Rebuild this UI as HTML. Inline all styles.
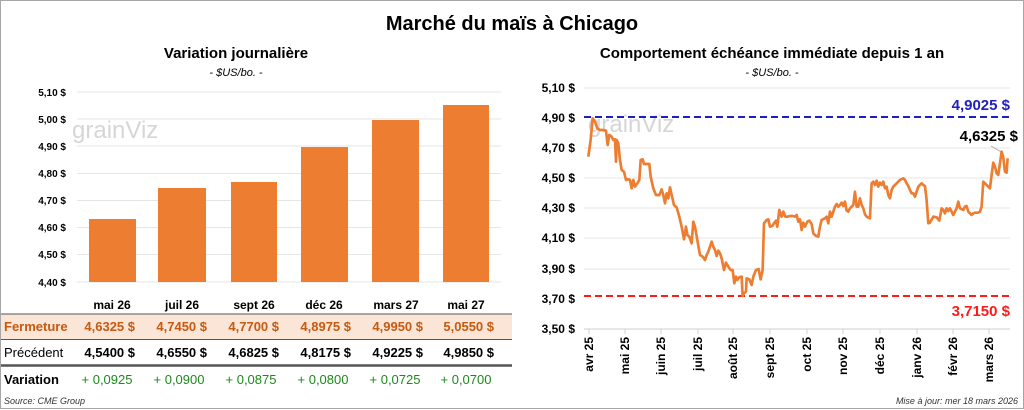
<!DOCTYPE html>
<html><head><meta charset="utf-8"><style>
html,body{margin:0;padding:0;background:#fff}
svg{display:block;font-family:"Liberation Sans",Calibri,sans-serif}
</style></head><body>
<svg width="1024" height="410" viewBox="0 0 1024 410" xmlns="http://www.w3.org/2000/svg">
<rect x="0.5" y="0.5" width="1023" height="408" fill="#fff" stroke="#a6a6a6"/>
<text x="512" y="30" text-anchor="middle" font-size="20" font-weight="bold" fill="#000">Marché du maïs à Chicago</text>
<text x="236" y="58" text-anchor="middle" font-size="15" font-weight="bold">Variation  journalière</text>
<text x="236" y="76" text-anchor="middle" font-size="11" font-style="italic">- $US/bo. -</text>
<text x="772" y="58" text-anchor="middle" font-size="15" font-weight="bold">Comportement  échéance immédiate depuis 1 an</text>
<text x="772" y="76" text-anchor="middle" font-size="11" font-style="italic">- $US/bo. -</text>
<g stroke="#e6e6e6" stroke-width="1">
<line x1="77" x2="501" y1="92" y2="92"/><line x1="77" x2="501" y1="119" y2="119"/><line x1="77" x2="501" y1="146" y2="146"/><line x1="77" x2="501" y1="173.5" y2="173.5"/><line x1="77" x2="501" y1="200.5" y2="200.5"/><line x1="77" x2="501" y1="227.5" y2="227.5"/><line x1="77" x2="501" y1="254.5" y2="254.5"/><line x1="77" x2="501" y1="282" y2="282"/>
</g>
<g font-size="10" font-weight="bold" text-anchor="end">
<text x="66" y="96">5,10 $</text><text x="66" y="123">5,00 $</text><text x="66" y="150">4,90 $</text><text x="66" y="177">4,80 $</text><text x="66" y="204">4,70 $</text><text x="66" y="231">4,60 $</text><text x="66" y="258">4,50 $</text><text x="66" y="286">4,40 $</text>
</g>
<text x="72" y="138" font-size="24" fill="#d6d6d6">grainViz</text>
<g fill="#ed7d31">
<rect x="89" y="219" width="47" height="63"/><rect x="158" y="188" width="48" height="94"/><rect x="231" y="182" width="46" height="100"/><rect x="301" y="147" width="47" height="135"/><rect x="372" y="120" width="47" height="162"/><rect x="443" y="105" width="46" height="177"/>
</g>
<g font-size="12" font-weight="bold" text-anchor="middle">
<text x="112" y="309">mai 26</text><text x="182" y="309">juil 26</text><text x="254" y="309">sept 26</text><text x="324" y="309">déc 26</text><text x="396" y="309">mars 27</text><text x="466" y="309">mai 27</text>
</g>
<rect x="1" y="314" width="511" height="25" fill="#fbe5d6"/>
<line x1="1" x2="512" y1="314" y2="314" stroke="#555"/>
<line x1="1" x2="512" y1="339.5" y2="339.5" stroke="#555"/>
<line x1="1" x2="512" y1="365.5" y2="365.5" stroke="#555" stroke-width="2.5"/>
<text x="4" y="331" font-size="13" font-weight="bold" fill="#c55a11">Fermeture</text>
<g font-size="13" font-weight="bold" fill="#c55a11" text-anchor="end">
<text x="135" y="331">4,6325  $</text><text x="207" y="331">4,7450  $</text><text x="279" y="331">4,7700  $</text><text x="351" y="331">4,8975  $</text><text x="423" y="331">4,9950  $</text><text x="494" y="331">5,0550  $</text>
</g>
<text x="4" y="357" font-size="13">Précédent</text>
<g font-size="13" font-weight="bold" text-anchor="end">
<text x="135" y="357">4,5400  $</text><text x="207" y="357">4,6550  $</text><text x="279" y="357">4,6825  $</text><text x="351" y="357">4,8175  $</text><text x="423" y="357">4,9225  $</text><text x="494" y="357">4,9850  $</text>
</g>
<text x="4" y="384" font-size="13" font-weight="bold">Variation</text>
<g font-size="13" fill="#1a8a1a" text-anchor="middle">
<text x="107" y="384">+ 0,0925</text><text x="179" y="384">+ 0,0900</text><text x="251" y="384">+ 0,0875</text><text x="323" y="384">+ 0,0800</text><text x="395" y="384">+ 0,0725</text><text x="466" y="384">+ 0,0700</text>
</g>
<text x="4" y="404" font-size="9" font-style="italic" fill="#333">Source: CME Group</text>
<text x="1018" y="404" font-size="9" font-style="italic" fill="#333" text-anchor="end">Mise à jour: mer 18 mars 2026</text>
<g stroke="#e6e6e6">
<line x1="584" x2="1010" y1="88" y2="88"/><line x1="584" x2="1010" y1="148" y2="148"/><line x1="584" x2="1010" y1="178" y2="178"/><line x1="584" x2="1010" y1="208" y2="208"/><line x1="584" x2="1010" y1="238" y2="238"/><line x1="584" x2="1010" y1="269" y2="269"/>
</g>
<line x1="584" x2="1010" y1="329" y2="329" stroke="#d0d0d0"/>
<g stroke="#d0d0d0"><line x1="589" x2="589" y1="329" y2="334"/><line x1="625" x2="625" y1="329" y2="334"/><line x1="661" x2="661" y1="329" y2="334"/><line x1="698" x2="698" y1="329" y2="334"/><line x1="733" x2="733" y1="329" y2="334"/><line x1="770" x2="770" y1="329" y2="334"/><line x1="807" x2="807" y1="329" y2="334"/><line x1="843" x2="843" y1="329" y2="334"/><line x1="880" x2="880" y1="329" y2="334"/><line x1="917" x2="917" y1="329" y2="334"/><line x1="953" x2="953" y1="329" y2="334"/><line x1="989" x2="989" y1="329" y2="334"/></g>
<g font-size="12" font-weight="bold" text-anchor="end">
<text x="575" y="92">5,10 $</text><text x="575" y="122">4,90 $</text><text x="575" y="152">4,70 $</text><text x="575" y="182">4,50 $</text><text x="575" y="212">4,30 $</text><text x="575" y="242">4,10 $</text><text x="575" y="273">3,90 $</text><text x="575" y="303">3,70 $</text><text x="575" y="333">3,50 $</text>
</g>
<g font-size="12" font-weight="bold" text-anchor="end">
<text transform="translate(593,337) rotate(-90)">avr 25</text><text transform="translate(629,337) rotate(-90)">mai 25</text><text transform="translate(665,337) rotate(-90)">juin 25</text><text transform="translate(702,337) rotate(-90)">juil 25</text><text transform="translate(737,337) rotate(-90)">août 25</text><text transform="translate(774,337) rotate(-90)">sept 25</text><text transform="translate(811,337) rotate(-90)">oct 25</text><text transform="translate(847,337) rotate(-90)">nov 25</text><text transform="translate(884,337) rotate(-90)">déc 25</text><text transform="translate(921,337) rotate(-90)">janv 26</text><text transform="translate(957,337) rotate(-90)">févr 26</text><text transform="translate(993,337) rotate(-90)">mars 26</text>
</g>
<text x="588" y="132" font-size="24" fill="#d6d6d6">grainViz</text>
<line x1="584" x2="1010" y1="117" y2="117" stroke="#1f1fbf" stroke-width="2" stroke-dasharray="7,4"/>
<line x1="584" x2="1010" y1="296" y2="296" stroke="#ff1a1a" stroke-width="2" stroke-dasharray="7,4"/>
<text x="1010" y="110" font-size="15" font-weight="bold" fill="#1f1fbf" text-anchor="end">4,9025 $</text>
<text x="1010" y="316" font-size="15" font-weight="bold" fill="#ff1a1a" text-anchor="end">3,7150 $</text>
<text x="1018" y="141" font-size="15" font-weight="bold" text-anchor="end">4,6325 $</text>
<line x1="991" x2="1003" y1="146" y2="153" stroke="#aaa"/>
<g transform="translate(520,80) scale(0.3333)">
<polyline fill="none" stroke="#ed7d31" stroke-width="8" stroke-linejoin="round" points="205,230 212,180 218,115 225,125 232,145 240,150 250,150 258,152 263,195 268,165 275,170 280,180 285,178 288,245 290,180 295,190 300,240 305,270 312,275 318,300 325,298 330,300 335,325 340,300 345,320 352,310 358,300 362,240 368,238 372,252 388,252 392,290 400,325 408,345 418,345 425,328 430,345 435,370 440,340 445,355 450,322 455,345 462,375 470,382 478,410 485,440 492,478 498,440 502,465 508,470 515,490 520,425 525,440 532,480 540,525 548,530 555,540 560,525 565,515 570,500 575,485 580,500 585,510 590,528 595,512 600,520 605,535 612,570 618,548 625,560 632,570 638,570 643,610 648,590 652,600 658,592 665,590 668,648 672,640 678,635 680,595 688,598 695,615 700,590 708,570 716,567 722,598 728,570 732,430 740,420 745,418 750,440 757,438 762,430 768,422 772,440 778,390 785,410 790,395 796,410 802,410 810,408 818,408 825,410 830,405 835,425 840,418 845,450 850,428 855,440 862,425 868,422 875,432 880,460 887,467 895,470 900,440 905,420 915,415 920,410 925,430 930,395 935,410 940,395 945,380 950,372 955,380 960,375 965,368 970,378 975,365 980,392 985,395 990,385 995,380 1000,375 1005,335 1010,380 1015,380 1020,355 1025,375 1030,385 1035,403 1040,410 1045,413 1050,415 1055,310 1060,305 1065,315 1070,302 1075,320 1080,308 1085,315 1090,305 1095,325 1100,320 1105,345 1110,355 1115,330 1120,320 1130,310 1140,300 1150,295 1155,300 1160,310 1165,318 1170,330 1175,340 1180,340 1185,350 1190,335 1195,320 1200,315 1205,310 1210,315 1215,318 1220,360 1225,430 1230,428 1240,410 1250,412 1258,422 1265,385 1270,390 1275,400 1280,385 1285,393 1290,385 1295,395 1300,405 1305,395 1310,385 1315,365 1320,385 1330,390 1335,380 1340,378 1345,395 1350,400 1355,405 1360,400 1365,398 1370,398 1375,398 1380,395 1385,380 1390,305 1395,310 1400,315 1405,320 1410,325 1415,285 1420,248 1425,260 1430,280 1435,285 1440,250 1445,215 1450,232 1455,275 1460,278 1463,235"/>
</g>
</svg>
</body></html>
